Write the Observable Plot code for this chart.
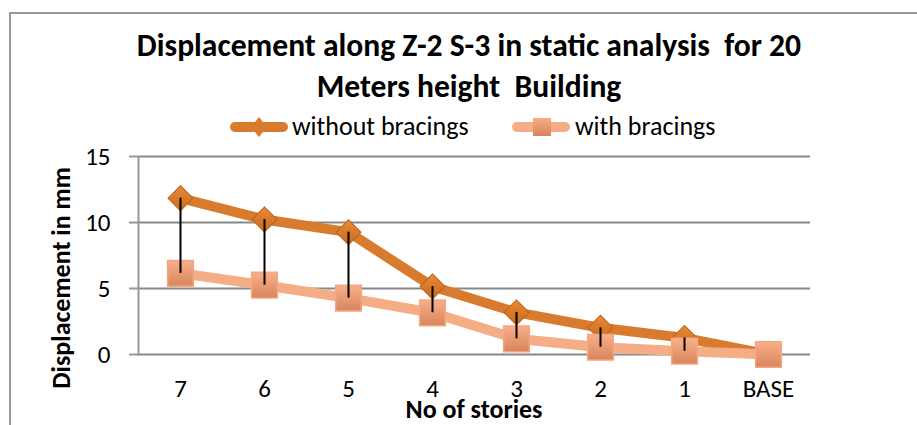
<!DOCTYPE html>
<html><head><meta charset="utf-8">
<script src="https://cdn.jsdelivr.net/npm/d3@7"></script>
<script src="https://cdn.jsdelivr.net/npm/@observablehq/plot@0.6"></script>
<style>
html,body{margin:0;padding:0;background:#fff;}
#wrap{position:relative;width:917px;height:425px;overflow:hidden;font-family:Carlito,Lato,sans-serif;color:#000;}
#frame{position:absolute;left:9px;top:12px;width:920px;height:430px;border:2px solid #999;box-sizing:border-box;}
.title{position:absolute;left:0;width:938px;text-align:center;font-weight:bold;font-size:31.6px;line-height:1.2;white-space:nowrap;}
.leg{position:absolute;top:111px;font-size:26px;line-height:1.2;white-space:nowrap;}
#ytitle{position:absolute;left:62px;top:278px;transform:translate(-50%,-50%) rotate(-90deg);font-weight:bold;font-size:26px;line-height:1.2;white-space:nowrap;}
#xtitle{position:absolute;left:474px;top:400px;transform:translateX(-50%);font-weight:bold;font-size:26px;line-height:18px;white-space:nowrap;}
#plot{position:absolute;left:0;top:140px;}
</style></head>
<body><div id="wrap">
<div id="frame"></div>
<div id="plot"></div>
<div class="title" style="top:27px">Displacement along Z-2 S-3 in static analysis&nbsp; for 20</div>
<div class="title" style="top:68px">Meters height&nbsp; Building</div>
<div id="legend"></div>
<div id="ytitle">Displacement in mm</div>
<div id="xtitle">No of stories</div>
</div>
<script>
const stories = ["7","6","5","4","3","2","1","BASE"];
const withoutBracings = [11.84, 10.23, 9.27, 5.15, 3.19, 2.02, 1.26, 0];
const withBracings = [6.15, 5.25, 4.27, 3.16, 1.19, 0.55, 0.25, 0];
const seriesNames = ["without bracings","with bracings"];
const yTicks = [0,5,10,15];

const cDark = "#D97B2F", cLight = "#F5AD85";
const rows = stories.map((s,i)=>({story:s, hi:withoutBracings[i], lo:withBracings[i]}));
const longA = stories.map((s,i)=>({story:s, v:withoutBracings[i]}));
const longB = stories.map((s,i)=>({story:s, v:withBracings[i]}));

// legend
const leg = document.getElementById("legend");
leg.innerHTML = `
<svg style="position:absolute;left:225px;top:114px" width="68" height="26">
 <defs><linearGradient id="lgS" x1="0" y1="0" x2="0" y2="1"><stop offset="0" stop-color="#F6AC85"/><stop offset="1" stop-color="#D8845C"/></linearGradient></defs>
 <line x1="10" y1="13" x2="58" y2="13" stroke="${cDark}" stroke-width="10" stroke-linecap="round"/><path d="M34 3 L42 13 L34 23 L26 13Z" fill="${cDark}"/></svg>
<div class="leg" style="left:292px">${seriesNames[0]}</div>
<svg style="position:absolute;left:507px;top:114px" width="68" height="26"><line x1="10" y1="13" x2="58" y2="13" stroke="${cLight}" stroke-width="10" stroke-linecap="round"/><rect x="26" y="4" width="18" height="18" fill="url(#lgS)"/></svg>
<div class="leg" style="left:575px">${seriesNames[1]}</div>`;

const chart = Plot.plot({
  width: 917, height: 285,
  marginTop: 16, marginBottom: 71, marginLeft: 137, marginRight: 107,
  style: {fontFamily: 'Carlito,Lato,sans-serif', color:"#000", background:"transparent"},
  x: {type: "point", domain: stories, padding: 0.5},
  y: {domain: [0,15]},
  marks: [
    Plot.gridY(yTicks, {stroke: "#888", strokeOpacity: 1, strokeWidth: 2}),
    Plot.ruleX([stories[0]], {stroke:"#999", strokeWidth:2, dx:-42, y1:0, y2:15}),
    Plot.axisY(yTicks, {fontSize: 25, tickSize: 8, tickPadding: 19, stroke:"#999", strokeWidth:2, label: null, fill:"#000"}),
    Plot.axisX({fontSize: 25, tickSize: 0, tickPadding: 25, label: null, fill:"#000"}),
    Plot.line(longA, {x:"story", y:"v", stroke: cDark, strokeWidth: 10}),
    Plot.dot(longA, {x:"story", y:"v", symbol:"square", rotate:45, r: 10, fill: "url(#gD)", stroke:"#B8641F", strokeWidth:1}),
    Plot.line(longB, {x:"story", y:"v", stroke: cLight, strokeWidth: 10}),
    Plot.dot(longB, {x:"story", y:"v", symbol:"square", r: 14.5, fill:"url(#gS)", stroke:"#F4A882", strokeWidth:1.5}),
    Plot.ruleX(rows, {x:"story", y1:"lo", y2:"hi", stroke:"#000", strokeWidth:2})
  ]
});
const ns = "http://www.w3.org/2000/svg";
const defs = document.createElementNS(ns, "defs");
defs.innerHTML = `
<linearGradient id="gD" x1="0" y1="0" x2="1" y2="1"><stop offset="0" stop-color="#EA8A35"/><stop offset="1" stop-color="#C9691F"/></linearGradient>
<linearGradient id="gS" x1="0" y1="0" x2="0" y2="1"><stop offset="0" stop-color="#F8B08A"/><stop offset="1" stop-color="#D9845C"/></linearGradient>`;
chart.insertBefore(defs, chart.firstChild);
document.getElementById("plot").appendChild(chart);
</script>
</body></html>
